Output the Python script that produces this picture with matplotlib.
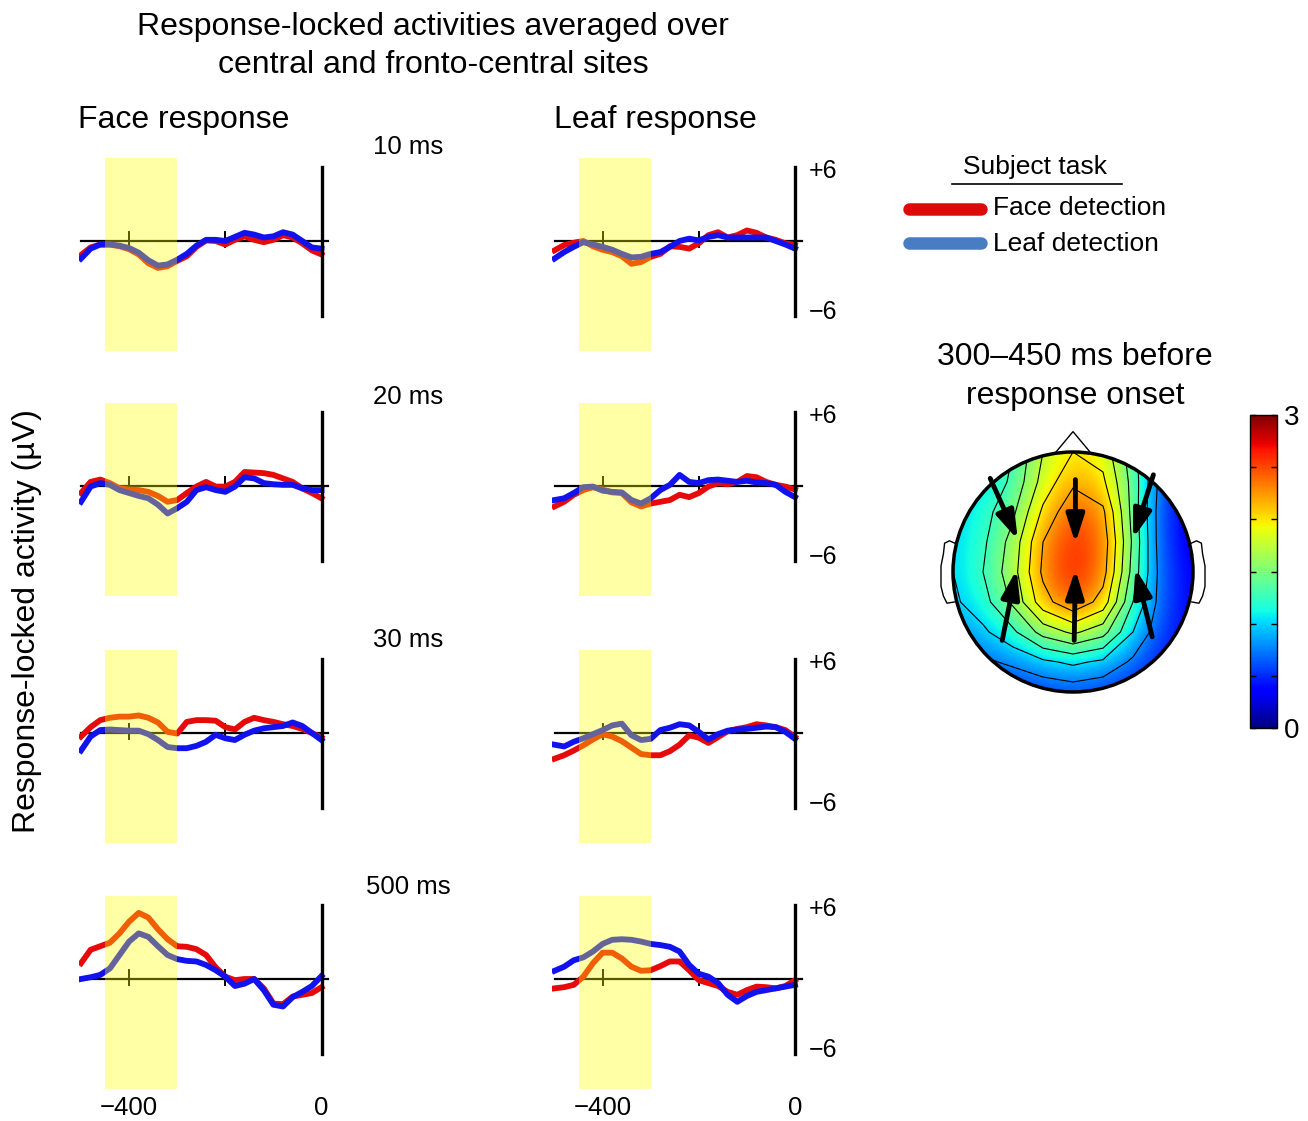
import numpy as np
import matplotlib
matplotlib.use("Agg")
import matplotlib.pyplot as plt
from matplotlib.patches import Circle, Polygon
from matplotlib.cm import ScalarMappable
from matplotlib.colors import Normalize

plt.rcParams['font.family'] = ['Liberation Sans', 'DejaVu Sans']

# time axis (ms before response)
times = [-500, -480, -460, -440, -420, -400, -380, -360, -340, -320, -300, -280, -260,
         -240, -220, -200, -180, -160, -140, -120, -100, -80, -60, -40, -20, 0]

# Face response column (red = face detection task, blue = leaf detection task)
face10_red = [-1.2, -0.55, -0.3, -0.3, -0.45, -0.7, -1.15, -1.9, -2.3, -2.15, -1.7, -1.3, -0.5,
              0.05, 0.0, -0.3, 0.1, 0.4, 0.1, -0.1, 0.1, 0.5, 0.3, -0.2, -0.8, -1.15]
face10_blue = [-1.5, -0.65, -0.3, -0.3, -0.4, -0.6, -1.0, -1.65, -2.1, -2.0, -1.6, -1.1, -0.4,
               0.1, 0.1, 0.0, 0.35, 0.7, 0.55, 0.3, 0.4, 0.75, 0.55, 0.0, -0.55, -0.65]
face20_red = [-0.6, 0.35, 0.55, 0.25, -0.2, -0.3, -0.35, -0.5, -0.85, -1.35, -1.2, -0.6, -0.05,
              0.35, -0.05, -0.05, 0.35, 1.2, 1.15, 1.1, 0.95, 0.65, 0.35, -0.2, -0.6, -1.05]
face20_blue = [-1.35, -0.05, 0.25, 0.1, -0.35, -0.6, -0.85, -1.05, -1.6, -2.35, -1.9, -1.35, -0.35,
               -0.1, -0.35, -0.5, -0.05, 0.75, 0.65, 0.25, 0.15, 0.1, 0.1, -0.2, -0.35, -0.35]
face30_red = [-0.3, 0.5, 1.1, 1.3, 1.4, 1.4, 1.5, 1.3, 0.9, 0.1, -0.05, 0.95, 1.1,
              1.1, 1.05, 0.5, 0.3, 0.95, 1.3, 1.1, 0.95, 0.75, 0.6, 0.35, 0.0, -0.4]
face30_blue = [-1.5, -0.3, 0.25, 0.3, 0.25, 0.2, 0.2, -0.1, -0.6, -1.2, -1.3, -1.3, -1.1,
               -0.75, -0.15, -0.45, -0.6, -0.15, 0.2, 0.4, 0.5, 0.6, 0.9, 0.6, 0.0, -0.6]
face500_red = [1.35, 2.5, 2.8, 3.1, 3.9, 4.9, 5.65, 5.25, 4.25, 3.4, 2.8, 2.75, 2.55,
               2.05, 1.0, 0.2, -0.1, 0.0, 0.0, -0.8, -2.1, -2.15, -1.5, -1.35, -1.2, -0.7]
face500_blue = [0.0, 0.15, 0.35, 0.9, 2.05, 3.2, 3.9, 3.6, 2.8, 2.05, 1.7, 1.55, 1.5,
                1.2, 0.75, 0.2, -0.6, -0.4, 0.0, -0.95, -2.2, -2.35, -1.55, -1.1, -0.6, 0.25]

# Leaf response column
leaf10_red = [-0.8, -0.35, -0.15, 0.0, -0.45, -0.75, -0.95, -1.3, -1.95, -1.8, -1.35, -1.1, -0.45,
              -0.5, -0.65, -0.2, 0.5, 0.75, 0.3, 0.5, 0.9, 0.7, 0.3, 0.1, -0.2, -0.35]
leaf10_blue = [-1.5, -0.95, -0.5, -0.1, -0.3, -0.5, -0.75, -1.1, -1.4, -1.35, -1.1, -0.95, -0.5,
               0.0, 0.2, 0.05, 0.35, 0.5, 0.3, 0.3, 0.3, 0.3, 0.3, 0.0, -0.3, -0.65]
leaf20_red = [-1.75, -1.35, -0.75, -0.35, -0.1, -0.3, -0.55, -0.6, -1.4, -1.75, -1.5, -1.35, -1.2,
              -0.75, -0.95, -0.6, -0.05, 0.25, 0.15, 0.35, 0.85, 0.75, 0.35, 0.1, -0.05, -0.3]
leaf20_blue = [-1.2, -1.05, -0.6, -0.1, -0.05, -0.4, -0.5, -0.55, -1.2, -1.5, -1.05, -0.35, 0.1,
               0.95, 0.35, 0.25, 0.5, 0.55, 0.45, 0.35, 0.45, 0.3, 0.25, 0.1, -0.5, -0.95]
leaf30_red = [-2.2, -1.9, -1.5, -1.05, -0.55, -0.1, -0.3, -0.7, -1.25, -1.8, -1.9, -1.9, -1.55,
              -1.0, -0.2, -0.4, -0.85, -0.35, 0.15, 0.35, 0.5, 0.75, 0.65, 0.5, 0.25, -0.35]
leaf30_blue = [-1.0, -1.15, -0.75, -0.45, -0.1, 0.25, 0.65, 0.8, -0.2, -0.6, -0.5, 0.25, 0.45,
               0.75, 0.65, 0.1, -0.55, -0.1, 0.2, 0.3, 0.35, 0.45, 0.55, 0.5, 0.1, -0.5]
leaf500_red = [-0.8, -0.7, -0.5, 0.2, 1.35, 2.25, 2.25, 1.75, 1.05, 0.7, 0.75, 1.1, 1.5,
               1.5, 0.75, -0.1, -0.35, -0.6, -1.1, -1.35, -0.95, -0.65, -0.7, -0.8, -0.6, -0.1]
leaf500_blue = [0.7, 1.05, 1.6, 1.85, 2.35, 3.0, 3.35, 3.4, 3.35, 3.2, 3.0, 2.9, 2.75,
                2.35, 1.2, 0.45, 0.2, -0.35, -1.35, -1.95, -1.45, -1.1, -0.95, -0.8, -0.65, -0.5]

row_labels = ["10 ms", "20 ms", "30 ms", "500 ms"]
face_rows = [(face10_red, face10_blue), (face20_red, face20_blue),
             (face30_red, face30_blue), (face500_red, face500_blue)]
leaf_rows = [(leaf10_red, leaf10_blue), (leaf20_red, leaf20_blue),
             (leaf30_red, leaf30_blue), (leaf500_red, leaf500_blue)]

# topography 300-450 ms before response, rows from front (top) to back, cols left to right
topo_grid = np.array([
    [0.9, 1.0, 1.25, 1.75, 2.0, 1.9, 1.35, 0.7, 0.35],
    [0.95, 1.05, 1.3, 1.85, 2.2, 2.05, 1.4, 0.6, 0.3],
    [1.0, 1.15, 1.45, 2.05, 2.45, 2.3, 1.4, 0.55, 0.3],
    [1.0, 1.2, 1.6, 2.25, 2.6, 2.4, 1.45, 0.55, 0.3],
    [1.0, 1.25, 1.65, 2.3, 2.65, 2.35, 1.4, 0.6, 0.35],
    [0.95, 1.15, 1.55, 2.15, 2.45, 2.15, 1.25, 0.6, 0.35],
    [0.8, 0.95, 1.2, 1.6, 1.8, 1.6, 1.0, 0.55, 0.35],
    [0.6, 0.7, 0.8, 0.95, 1.05, 0.95, 0.7, 0.45, 0.3],
    [0.4, 0.45, 0.5, 0.55, 0.6, 0.55, 0.45, 0.35, 0.3],
])
topo_pos = [-1.0, -0.75, -0.5, -0.25, 0.0, 0.25, 0.5, 0.75, 1.0]

W, H = 1308, 1121
fig = plt.figure(figsize=(W / 100, H / 100), dpi=100)


def box(left, top, width, height):
    return [left / W, 1 - (top + height) / H, width / W, height / H]


RED = '#e60a0a'
BLUE = '#1212ee'
ms_px = 0.481
uv_px = 11.7
xlim = (-505, 40)
ylim = (-9.4, 7.1)
zero_px = [241, 486, 733, 979]
col_zero_x = [321.5, 795]

for r in range(4):
    for c, data in enumerate([face_rows[r], leaf_rows[r]]):
        left = col_zero_x[c] + xlim[0] * ms_px
        top = zero_px[r] - ylim[1] * uv_px
        ax = fig.add_axes(box(left, top, (xlim[1] - xlim[0]) * ms_px, (ylim[1] - ylim[0]) * uv_px))
        ax.set_xlim(xlim)
        ax.set_ylim(ylim)
        ax.axis('off')
        ax.plot([-500, 14], [0, 0], color='k', lw=1.6, zorder=1)
        for tk in (-400, -200):
            ax.plot([tk, tk], [-0.55, 0.75], color='k', lw=1.4, zorder=1)
        red, blue = data
        ax.plot(times, red, color=RED, lw=4.2, zorder=2)
        ax.plot(times, blue, color=BLUE, lw=4.2, zorder=3)
        ax.plot([0, 0], [-6.4, 6.3], color='k', lw=2.4, zorder=4)
        ax.axvspan(-450, -300, color='#ffff00', alpha=0.35, lw=0, zorder=5)
        if c == 1:
            ax.text(28, 6.0, '+6', fontsize=18, ha='left', va='center')
            ax.text(28, -6.1, '\u22126', fontsize=18, ha='left', va='center')
        if r == 3:
            ax.text(-400, -11.0, '\u2212400', fontsize=18.5, ha='center', va='center', clip_on=False)
            ax.text(0, -11.0, '0', fontsize=18.5, ha='center', va='center', clip_on=False)

# overlay for texts and legend (pixel coordinates)
ov = fig.add_axes([0, 0, 1, 1])
ov.set_xlim(0, W)
ov.set_ylim(H, 0)
ov.axis('off')
ov.patch.set_visible(False)

ov.text(433, 27, 'Response-locked activities averaged over', ha='center', va='center', fontsize=23)
ov.text(433, 65, 'central and fronto-central sites', ha='center', va='center', fontsize=23)
ov.text(78, 120, 'Face response', ha='left', va='center', fontsize=23)
ov.text(554, 120, 'Leaf response', ha='left', va='center', fontsize=23)
for lab, y in zip(row_labels, [147, 397, 640, 887]):
    ov.text(408, y, lab, ha='center', va='center', fontsize=18.5)
ov.text(27, 621, 'Response-locked activity (\u00b5V)', rotation=90, ha='center', va='center', fontsize=23)

ov.text(1035, 167, 'Subject task', ha='center', va='center', fontsize=19)
ov.plot([952, 1122], [184, 184], color='k', lw=1.2)
ov.plot([909, 981], [209, 209], color='#dd0a0a', lw=9, solid_capstyle='round')
ov.plot([909, 981], [243, 243], color='#4a7cc4', lw=9, solid_capstyle='round')
ov.text(993, 208, 'Face detection', ha='left', va='center', fontsize=19)
ov.text(993, 244, 'Leaf detection', ha='left', va='center', fontsize=19)

ov.text(1075, 357, '300\u2013450 ms before', ha='center', va='center', fontsize=23)
ov.text(1075, 396, 'response onset', ha='center', va='center', fontsize=23)

# scalp map
hx = fig.add_axes(box(1073 - 144, 572 - 144, 288, 288))
hx.set_xlim(-1.2, 1.2)
hx.set_ylim(-1.2, 1.2)
hx.set_aspect('equal')
hx.axis('off')
im = hx.imshow(topo_grid, extent=(-1.125, 1.125, -1.125, 1.125), cmap='jet', vmin=0, vmax=3,
               interpolation='bicubic', origin='upper', zorder=1)
clip = Circle((0, 0), 1.0, transform=hx.transData)
im.set_clip_path(clip)
cs = hx.contour(topo_pos, topo_pos, topo_grid[::-1], levels=[0.75, 1.0, 1.25, 1.5, 1.75, 2.0, 2.25],
                colors='k', linewidths=0.8, zorder=2)
cs.set_clip_path(clip)
hx.add_patch(Circle((0, 0), 1.0, fill=False, ec='k', lw=2.5, zorder=3))
hx.add_patch(Polygon([(-0.15, 0.99), (0.0, 1.17), (0.15, 0.99)], closed=False, fill=False,
                     ec='k', lw=1.0, zorder=3))
ear = [(-0.985, 0.24), (-1.03, 0.26), (-1.07, 0.24), (-1.08, 0.15), (-1.1, 0.05),
       (-1.1, -0.12), (-1.08, -0.2), (-1.05, -0.26), (-0.99, -0.25)]
hx.plot([p[0] for p in ear], [p[1] for p in ear], color='k', lw=1.0, zorder=3)
hx.plot([-p[0] for p in ear], [p[1] for p in ear], color='k', lw=1.0, zorder=3)

arrows = [((-0.69, 0.78), (-0.46, 0.27)), ((0.02, 0.77), (0.02, 0.24)), ((0.67, 0.81), (0.5, 0.28)),
          ((-0.59, -0.57), (-0.47, 0.02)), ((0.01, -0.57), (0.02, 0.02)), ((0.66, -0.54), (0.52, 0.03))]
for tail, head in arrows:
    hx.annotate('', xy=head, xytext=tail,
                arrowprops=dict(arrowstyle='-|>,head_length=1.0,head_width=0.32', color='k', lw=3.5,
                                mutation_scale=17, shrinkA=0, shrinkB=0), zorder=4)

cax = fig.add_axes(box(1250, 415, 27, 313))
cb = fig.colorbar(ScalarMappable(Normalize(0, 3), cmap='jet'), cax=cax)
cb.set_ticks([0, 0.5, 1, 1.5, 2, 2.5, 3])
cb.set_ticklabels(['0', '', '', '', '', '', '3'])
cax.tick_params(direction='in', length=4, width=1, left=True, right=True, labelsize=20, pad=5)
cb.outline.set_linewidth(1.0)

fig.savefig('out.png', dpi=100)
